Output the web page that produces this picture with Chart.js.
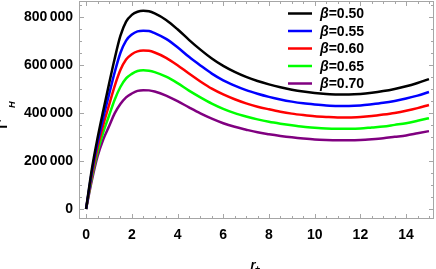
<!DOCTYPE html>
<html>
<head>
<meta charset="utf-8">
<script src="https://cdn.jsdelivr.net/npm/chart.js@4/dist/chart.umd.min.js"></script>
<style>
  html, body { margin: 0; padding: 0; background: #fff; }
  canvas { display: block; }
</style>
</head>
<body>
<canvas id="chart" width="436" height="269"></canvas>
<script>
// horizon radius r+
const rPlus = [0, 0.25, 0.5, 0.75, 1, 1.25, 1.5, 1.75, 2, 2.25, 2.5, 2.75, 3, 3.5, 4, 4.5, 5, 5.5, 6, 6.5, 7, 7.5, 8, 8.5, 9, 9.5, 10, 10.5, 11, 11.5, 12, 12.5, 13, 13.5, 14, 14.5, 15];

// T'_H values, in thousands, one array per beta
const beta050 = [0, 165, 295, 410, 520, 627, 722, 782, 810, 823, 827, 825, 816, 789, 750, 706, 665, 628, 597, 572, 551, 534, 520, 508, 498, 490, 484, 480, 478, 478, 480, 485, 492, 501, 512, 526, 542];
const beta055 = [0, 153, 276, 380, 476, 570, 651, 703, 728, 741, 744, 743, 734, 710, 675, 635, 599, 565, 537, 515, 496, 481, 468, 457, 448, 441, 436, 432, 430, 430, 432, 437, 443, 451, 461, 473, 488];
const beta060 = [0, 141, 257, 350, 432, 513, 580, 624, 646, 658, 661, 660, 653, 631, 600, 565, 532, 502, 478, 458, 441, 427, 416, 406, 398, 392, 387, 384, 382, 382, 384, 388, 394, 401, 410, 421, 434];
const beta065 = [0, 130, 238, 320, 388, 456, 509, 545, 564, 576, 579, 577, 571, 552, 525, 494, 466, 440, 418, 400, 386, 374, 364, 356, 349, 343, 339, 336, 335, 335, 336, 340, 344, 351, 358, 368, 379];
const beta070 = [0, 118, 219, 290, 344, 399, 438, 466, 482, 493, 496, 495, 490, 473, 450, 424, 399, 377, 358, 343, 331, 320, 312, 305, 299, 294, 290, 288, 287, 287, 288, 291, 295, 301, 307, 316, 325];

const betaLabels = ['0.50', '0.55', '0.60', '0.65', '0.70'];

// axis ticks
const xMajorTicks = [0, 2, 4, 6, 8, 10, 12, 14];
const yMajorTicks = [0, 200, 400, 600, 800];

const FONT = '"Liberation Sans", Arial, sans-serif';
Chart.defaults.font.family = FONT;
Chart.defaults.font.size = 14;
Chart.defaults.font.weight = 'bold';
Chart.defaults.color = '#000';

function toPoints(values) {
    return rPlus.map(function (r, i) { return { x: r, y: values[i] }; });
}

function makeSet(label, values, color) {
    return {
        label: 'β=' + label,
        data: toPoints(values),
        borderColor: color,
        backgroundColor: color,
        borderWidth: 2.5,
        pointRadius: 0,
        cubicInterpolationMode: 'monotone',
        fill: false
    };
}

// frame, inside ticks, legend and axis titles (Mathematica look)
const framePlugin = {
    id: 'frame',
    beforeDatasetsDraw: function (chart) {
        const ctx = chart.ctx;
        const a = chart.chartArea;
        const xs = chart.scales.x, ys = chart.scales.y;
        ctx.save();
        ctx.strokeStyle = '#a6a6a6';
        ctx.lineWidth = 1;
        ctx.strokeRect(a.left + 0.5, a.top + 0.5, a.right - a.left - 1, a.bottom - a.top - 1);
        ctx.beginPath();
        for (let v = 0; v <= 15; v += 0.5) {
            const px = Math.round(xs.getPixelForValue(v)) + 0.5;
            const len = (v % 2 === 0) ? 5 : 3;
            ctx.moveTo(px, a.bottom); ctx.lineTo(px, a.bottom - len);
            ctx.moveTo(px, a.top); ctx.lineTo(px, a.top + len);
        }
        for (let v = 0; v <= 850; v += 50) {
            const py = Math.round(ys.getPixelForValue(v)) + 0.5;
            const len = (v % 200 === 0) ? 5 : 3;
            ctx.moveTo(a.left, py); ctx.lineTo(a.left + len, py);
            ctx.moveTo(a.right, py); ctx.lineTo(a.right - len, py);
        }
        ctx.stroke();
        ctx.restore();
    },
    afterDraw: function (chart) {
        const ctx = chart.ctx;
        const a = chart.chartArea;
        ctx.save();
        ctx.textBaseline = 'middle';
        ctx.textAlign = 'left';
        chart.data.datasets.forEach(function (ds, i) {
            const y = a.top + 12.5 + i * 17.5;
            const x0 = a.right - 146;
            ctx.strokeStyle = ds.borderColor;
            ctx.lineWidth = 2.5;
            ctx.beginPath();
            ctx.moveTo(x0, y); ctx.lineTo(x0 + 24, y);
            ctx.stroke();
            ctx.fillStyle = '#000';
            ctx.font = 'italic bold 14px ' + FONT;
            ctx.fillText(ds.label.charAt(0), x0 + 32, y + 1);
            const w = ctx.measureText(ds.label.charAt(0)).width;
            ctx.font = 'bold 14px ' + FONT;
            ctx.fillText(ds.label.slice(1), x0 + 32 + w, y + 1);
        });

        // y title T'_H, rotated
        ctx.textBaseline = 'alphabetic';
        ctx.translate(7, 131);
        ctx.rotate(-Math.PI / 2);
        ctx.font = 'bold 14px ' + FONT;
        ctx.fillText("T'", 0, 0);
        ctx.font = 'italic bold 9px ' + FONT;
        ctx.fillText('H', 23, 8);
        ctx.setTransform(1, 0, 0, 1, 0, 0);

        // x title r_+
        ctx.font = 'italic bold 13px ' + FONT;
        ctx.fillText('r', 250.5, 268.5);
        ctx.font = 'bold 9px ' + FONT;
        ctx.fillText('+', 255, 272);
        ctx.restore();
    }
};

new Chart(document.getElementById('chart'), {
    type: 'line',
    data: {
        datasets: [
            makeSet(betaLabels[0], beta050, '#000000'),
            makeSet(betaLabels[1], beta055, '#0000ff'),
            makeSet(betaLabels[2], beta060, '#ff0000'),
            makeSet(betaLabels[3], beta065, '#00ff00'),
            makeSet(betaLabels[4], beta070, '#800080')
        ]
    },
    options: {
        responsive: false,
        animation: false,
        devicePixelRatio: 1,
        layout: { padding: { left: 0, right: 2, top: 1, bottom: 0 } },
        plugins: {
            legend: { display: false },
            tooltip: { enabled: false }
        },
        scales: {
            x: {
                type: 'linear',
                min: -0.31,
                max: 15.22,
                grid: { display: false, drawTicks: false },
                border: { display: false },
                ticks: { padding: 8, maxRotation: 0 },
                afterBuildTicks: function (scale) {
                    scale.ticks = xMajorTicks.map(function (v) { return { value: v }; });
                },
                afterFit: function (scale) {
                    scale.height = 50;
                    scale.paddingLeft = 0;
                    scale.paddingRight = 0;
                }
            },
            y: {
                type: 'linear',
                min: -41.8,
                max: 868,
                grid: { display: false, drawTicks: false },
                border: { display: false },
                ticks: {
                    padding: 6,
                    callback: function (v) { return v === 0 ? '0' : v + '\u2006000'; }
                },
                afterBuildTicks: function (scale) {
                    scale.ticks = yMajorTicks.map(function (v) { return { value: v }; });
                },
                afterFit: function (scale) {
                    scale.width = 79;
                    scale.paddingTop = 0;
                    scale.paddingBottom = 0;
                }
            }
        }
    },
    plugins: [framePlugin]
});
</script>
</body>
</html>
